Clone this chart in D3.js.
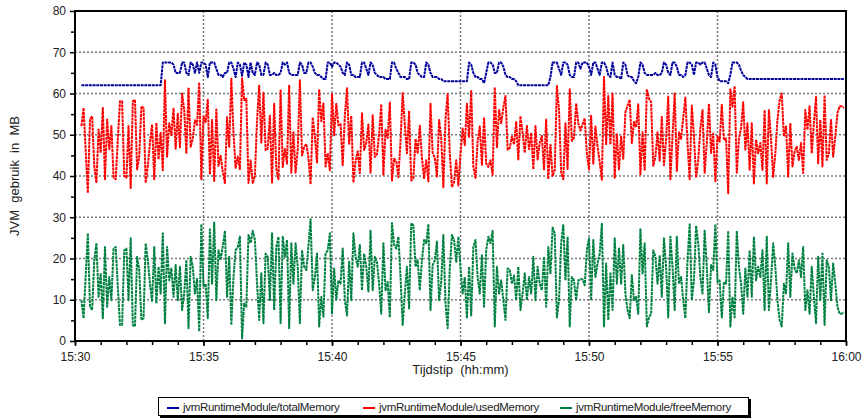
<html>
<head>
<style type="text/css">
  body { margin: 0; background: #fff; }
  text { font-family: "Liberation Sans", Arial, sans-serif; fill: #222; }
  .grid line { stroke: #7a7a7a; stroke-width: 1.5px; stroke-dasharray: 2,2; }
  .axis path, .axis line { stroke: #000; }
</style>
<script src="https://d3js.org/d3.v7.min.js"></script>
</head>
<body>
<script type="text/javascript">

// samples every 5 s, first one at 15:30:15
var startTime = new Date(2008, 0, 1, 15, 30, 15);
var stepSeconds = 5;

var seriesNames = ['jvmRuntimeModule/totalMemory', 'jvmRuntimeModule/usedMemory', 'jvmRuntimeModule/freeMemory'];
var seriesColors = ['#00009c', '#ff0000', '#008040'];

var yTicks = [0, 10, 20, 30, 40, 50, 60, 70, 80];

var totalMemory = [
  62, 62, 62, 62, 62, 62, 62, 62, 62, 62, 62, 62,
  62, 62, 62, 62, 62, 62, 62, 62, 62, 62, 62, 62,
  62, 62, 62, 62, 62, 62, 62, 62, 62, 62, 62, 62,
  62, 62, 67.5, 67.5, 67.5, 67.5, 67.5, 67, 65, 65, 65, 67.5,
  67.5, 65, 64.5, 67.5, 67, 65, 67.5, 65, 67.5, 67.5, 67, 64,
  67.5, 67.5, 67.5, 66, 64.5, 64.5, 64, 65, 65, 67.5, 67.5, 66,
  64, 67.5, 67, 64.3, 67.5, 67, 64, 67.5, 65, 64.5, 67.5, 67,
  64.5, 64.5, 67.5, 67, 64.5, 64.5, 65, 64.5, 64.5, 65, 67.5, 67,
  67.5, 65, 64.5, 64.5, 64.5, 64.5, 67.5, 67, 65, 65, 67.5, 67.5,
  66.5, 65, 64.5, 64.5, 64, 63.5, 63.5, 67.5, 67.5, 66.5, 67.5, 67.5,
  67, 66.5, 65, 64.5, 67.5, 67, 64.5, 64.5, 64, 64, 64, 67.5,
  67.5, 66, 64.5, 67.5, 67, 65, 64.5, 64, 64, 64, 63.5, 63.5,
  63.5, 67.5, 67.5, 66, 65, 64, 64, 64, 63.5, 63.5, 67.5, 67.5,
  67, 65, 64.5, 64, 64, 67.5, 67, 65, 64, 64, 64, 63.5,
  63.5, 63, 63, 63, 63, 63, 63, 63, 63, 63, 63, 63,
  63, 67.5, 67, 65, 64, 64, 63.5, 63.5, 62.5, 65, 67.5, 67.5,
  67, 65, 65, 67.5, 67.5, 66.5, 64.5, 64, 64, 63.5, 63.5, 63,
  62, 62, 62, 62, 62, 62, 62, 62, 62, 62, 62, 62,
  62, 62, 62, 64, 67.5, 67.5, 67.5, 66, 64.5, 67.5, 67.5, 67,
  64.5, 64, 64, 67.5, 67.5, 66, 67.5, 67.5, 67.5, 66.5, 64.5, 67.5,
  67.5, 66, 64.5, 67.5, 67.5, 66.5, 64.5, 64, 67.5, 64.5, 64, 64,
  63.5, 67.5, 67, 64.5, 64, 64, 63, 62.5, 64, 67.5, 67, 65,
  64.5, 64.5, 64.5, 64.5, 65, 64.5, 64.5, 65, 67.5, 67, 65, 64.5,
  67.5, 67.5, 66.5, 64.5, 64.5, 64, 64.5, 67.5, 67.5, 67, 64.5, 67.5,
  67.5, 67, 67.5, 67.5, 66, 64.5, 64, 67.5, 67, 64, 63, 63,
  63, 63, 62.5, 64.5, 67.5, 67.5, 67.5, 67, 65.5, 64.5, 64, 63.5,
  63.5, 63.5, 63.5, 63.5, 63.5, 63.5, 63.5, 63.5, 63.5, 63.5, 63.5, 63.5,
  63.5, 63.5, 63.5, 63.5, 63.5, 63.5, 63.5, 63.5, 63.5, 63.5, 63.5, 63.5,
  63.5, 63.5, 63.5, 63.5, 63.5, 63.5, 63.5, 63.5, 63.5, 63.5, 63.5, 63.5,
  63.5, 63.5, 63.5, 63.5, 63.5, 63.5, 63.5, 63.5, 63.5
];

var usedMemory = [
  52.1, 56.5, 46, 35.9, 53.7, 54.5, 42.4, 38.3, 51.3, 45.6, 56.5, 39.2,
  53.7, 46.5, 52.1, 39.6, 39.2, 48.9, 58.1, 58.1, 40, 39.6, 52.1, 37.1,
  58.1, 58.5, 41.6, 44.8, 56.9, 56.5, 38.3, 42.4, 48.1, 52.5, 39.2, 52.9,
  44, 50.5, 41.4, 63.2, 44.7, 52.8, 49.9, 56.3, 46.6, 55.1, 47, 60,
  56, 45.4, 61.4, 47.1, 49, 53.5, 52.4, 62.7, 39.2, 54.4, 53.1, 58.5,
  40.4, 53.6, 38.8, 56.1, 42.5, 44.9, 41, 38.3, 54.3, 47.1, 63.6, 50.5,
  42, 44.7, 41.7, 63.7, 58.4, 58.7, 38.3, 43.8, 38.3, 40, 53.5, 61.9,
  48.1, 60.2, 46.3, 46.6, 54.6, 38.4, 57.5, 41.7, 39.2, 60.7, 42.2, 46.6,
  43, 61.9, 40.8, 50.6, 40.8, 46.5, 63.2, 45, 47, 47.8, 44.5, 38,
  54.2, 49.5, 43.3, 61, 53.3, 57.6, 42.3, 45.5, 41.4, 59.8, 49.9, 57.5,
  52.3, 52.6, 42.6, 54.6, 61.3, 47.8, 54.6, 38.4, 43.6, 46, 40.7, 55.2,
  46.3, 48, 52.5, 40.8, 54.7, 44.6, 45.3, 50.1, 57.4, 40.3, 51.2, 49.2,
  57.8, 38.9, 44.2, 43.6, 39.7, 48.5, 60.1, 52.5, 45.5, 55.6, 38.9, 39.5,
  49, 45.4, 52.2, 44.4, 39.5, 43.8, 38.7, 57.5, 45.6, 44.4, 39.9, 53.6,
  49.2, 37.3, 53.9, 59.9, 45.4, 37.3, 38.5, 43.8, 37.7, 45.4, 51.5, 47.5,
  57.5, 49.5, 60.8, 42.2, 39.5, 48.5, 52, 42.7, 54.2, 43, 42.2, 43.8,
  40.3, 61.5, 47, 56, 52.8, 56.6, 59.4, 46.4, 46.8, 49.6, 47.6, 53.1,
  44, 54.5, 50.5, 45.6, 52.1, 46.5, 50.5, 41.6, 52.1, 44, 48.1, 49.7,
  41.6, 53.7, 39.2, 47.6, 40, 41.4, 61.8, 56.1, 40.8, 39.2, 52.8, 41.7,
  61, 48.5, 49.3, 57.6, 52.8, 51, 52.5, 54, 45.5, 41.6, 54.6, 43,
  52, 47.2, 43.3, 39.1, 64, 47.7, 59.4, 47.6, 60, 39.6, 50.1, 41.6,
  49.6, 44.2, 55.5, 57, 58.5, 48, 53.1, 51.8, 57.4, 40.4, 50.6, 41.3,
  61, 58.8, 57.9, 42.5, 44.6, 50.6, 43.7, 54.3, 42.6, 49, 59.3, 39.2,
  49.5, 60, 41.2, 50.6, 49, 54.1, 59, 47.9, 39.2, 57.1, 49.8, 39.6,
  43.8, 51.5, 56, 40.8, 48, 57.5, 45.6, 50.3, 38.7, 49.7, 48.3, 57.3,
  48.7, 49.1, 35.8, 61, 56.8, 61.8, 40.8, 49, 51.6, 57.9, 46.4, 52.8,
  41.5, 52.8, 38.2, 48.8, 45.5, 48, 41.5, 56, 38.2, 56, 48.8, 39.8,
  45.5, 53.6, 58.4, 60, 49.6, 52, 39.8, 52.8, 42.3, 45.9, 47.1, 43.9,
  48, 40.7, 56, 51.2, 56.9, 45.5, 52.8, 59.2, 43.1, 53.6, 42.3, 59.6,
  43.9, 45.5, 53.6, 44.7, 49.6, 55.2, 56.9, 56.9, 56.5
];

var freeMemory = [
  9.9, 5.5, 16, 26.1, 8.3, 7.5, 19.6, 23.7, 10.7, 16.4, 5.5, 22.8,
  8.3, 15.5, 9.9, 22.4, 22.8, 13.1, 3.9, 3.9, 22, 22.4, 9.9, 24.9,
  3.9, 3.5, 20.4, 17.2, 5.1, 5.5, 23.7, 19.6, 13.9, 9.5, 22.8, 9.1,
  18, 11.5, 26.1, 4.3, 22.8, 14.7, 17.6, 10.7, 18.4, 9.9, 18, 7.5,
  11.5, 19.6, 3.1, 20.4, 18, 11.5, 15.1, 2.3, 28.3, 13.1, 13.9, 5.5,
  27.1, 13.9, 28.7, 9.9, 22, 19.6, 23, 26.7, 10.7, 20.4, 3.9, 15.5,
  22, 22.8, 25.3, 0.6, 9.1, 8.3, 25.7, 23.7, 26.7, 24.5, 14, 5.1,
  16.4, 4.3, 21.2, 20.4, 9.9, 26.1, 7.5, 22.8, 25.3, 4.3, 25.3, 20.4,
  24.5, 3.1, 23.7, 13.9, 23.7, 18, 4.3, 22, 18, 17.2, 23, 29.5,
  12.3, 15.5, 21.2, 3.5, 10.7, 5.9, 21.2, 22, 26.1, 6.7, 17.6, 10,
  14.7, 13.9, 22.4, 9.9, 6.2, 19.2, 9.9, 26.1, 20.4, 18, 23.3, 12.3,
  21.2, 18, 12, 26.7, 12.3, 20.4, 19.2, 13.9, 6.6, 23.7, 12.3, 14.3,
  5.7, 28.6, 23.3, 22.4, 25.3, 15.5, 3.9, 11.5, 18, 7.9, 28.6, 28,
  18, 19.6, 12.3, 19.6, 24.5, 23.7, 28.3, 7.5, 18.4, 19.6, 24.1, 9.9,
  14.3, 25.7, 9.1, 3.1, 17.6, 25.7, 24.5, 19.2, 25.3, 17.6, 11.5, 15.5,
  5.5, 18, 6.2, 22.8, 24.5, 15.5, 11.5, 20.8, 8.3, 22, 25.3, 23.7,
  26.7, 3.5, 18, 11.5, 14.7, 9.9, 5.1, 17.6, 17.2, 13.9, 15.9, 9.9,
  18, 7.5, 11.5, 16.4, 9.9, 15.5, 11.5, 20.4, 9.9, 18, 13.9, 12.3,
  20.4, 8.3, 22.8, 16.4, 27.5, 26.1, 5.7, 9.9, 23.7, 28.3, 14.7, 25.3,
  3.5, 15.5, 14.7, 9.9, 14.7, 15, 15, 13.5, 22, 24.9, 9.9, 24.5,
  15.5, 18.8, 21.2, 28.4, 3.5, 18.8, 5.1, 16.4, 7.5, 24.9, 13.9, 22.4,
  13.9, 23.3, 11.5, 7.5, 5.5, 16, 9.9, 10.7, 6.6, 27.1, 16.4, 23.7,
  3.5, 5.7, 6.6, 22, 20.4, 13.9, 20.8, 10.7, 24.9, 18, 5.7, 25.3,
  18, 7.5, 25.3, 13.9, 15.5, 9.9, 5.5, 19.6, 28.3, 9.9, 14.7, 27.9,
  23.7, 15.5, 11.5, 26.7, 18, 7, 18.4, 17.2, 28.3, 14.3, 14.7, 5.7,
  14.3, 13.9, 26.7, 3.5, 10.7, 5.7, 26.7, 18, 13.9, 6.6, 17.6, 10.7,
  22, 10.7, 25.3, 14.7, 18, 15.5, 22, 7.5, 25.3, 7.5, 14.7, 23.7,
  18, 9.9, 5.1, 3.5, 13.9, 11.5, 23.7, 10.7, 21.2, 17.6, 16.4, 19.6,
  15.5, 22.8, 7.5, 12.3, 6.6, 18, 10.7, 4.3, 20.4, 9.9, 21.2, 3.9,
  19.6, 18, 9.9, 18.8, 13.9, 8.3, 6.6, 6.6, 7
];

var width = 866, height = 418;
var plotLeft = 75, plotRight = 846, plotTop = 11, plotBottom = 341;

var svg = d3.select('body')
  .append('svg')
    .attr('width', width)
    .attr('height', height);

svg.append('rect')
  .attr('width', width)
  .attr('height', height)
  .attr('fill', '#fff');

var x_scale = d3.scaleTime()
  .domain([new Date(2008, 0, 1, 15, 30), new Date(2008, 0, 1, 16, 0)])
  .range([plotLeft, plotRight]);

var y_scale = d3.scaleLinear()
  .domain([0, 80])
  .range([plotBottom, plotTop]);

var majorTimes = d3.timeMinute.every(5).range(new Date(2008, 0, 1, 15, 30), new Date(2008, 0, 1, 16, 0, 1));
var minorTimes = d3.timeMinute.every(1).range(new Date(2008, 0, 1, 15, 30), new Date(2008, 0, 1, 16, 0, 1));

// grid
svg.append('g')
  .attr('class', 'grid')
  .selectAll('line')
  .data(yTicks.slice(1, -1))
  .enter()
  .append('line')
    .attr('x1', plotLeft).attr('x2', plotRight)
    .attr('y1', function(d) { return y_scale(d); })
    .attr('y2', function(d) { return y_scale(d); });

svg.append('g')
  .attr('class', 'grid')
  .selectAll('line')
  .data(majorTimes.slice(1, -1))
  .enter()
  .append('line')
    .attr('y1', plotTop).attr('y2', plotBottom)
    .attr('x1', function(d) { return x_scale(d); })
    .attr('x2', function(d) { return x_scale(d); });

// series
var series = [totalMemory, usedMemory, freeMemory];
var line = d3.line()
  .x(function(d, i) { return x_scale(new Date(startTime.getTime() + i * stepSeconds * 1000)); })
  .y(function(d) { return y_scale(d); });

var plot = svg.append('g');
[2, 1, 0].forEach(function(k) {
  plot.append('path')
    .datum(series[k])
    .attr('d', line)
    .attr('fill', 'none')
    .attr('stroke', seriesColors[k])
    .attr('stroke-width', 2)
    .attr('stroke-dasharray', '3,0.7')
    .attr('stroke-linejoin', 'round');
});

// axes
var y_axis = d3.axisLeft(y_scale).tickValues(yTicks).tickSize(5).tickPadding(4);
var y_minor = d3.axisLeft(y_scale).tickValues(d3.range(5, 80, 10)).tickSize(4).tickFormat('');
var x_axis = d3.axisBottom(x_scale).tickValues(majorTimes).tickSize(5).tickPadding(6)
  .tickFormat(d3.timeFormat('%H:%M'));
var x_minor = d3.axisBottom(x_scale).tickValues(minorTimes).tickSize(4).tickFormat('');

svg.append('g').attr('class', 'axis').attr('transform', 'translate(' + plotLeft + ',0)').call(y_minor);
svg.append('g').attr('class', 'axis').attr('transform', 'translate(' + plotLeft + ',0)').call(y_axis);
svg.append('g').attr('class', 'axis').attr('transform', 'translate(0,' + plotBottom + ')').call(x_minor);
svg.append('g').attr('class', 'axis').attr('transform', 'translate(0,' + plotBottom + ')').call(x_axis);

svg.selectAll('.axis path').remove();
svg.selectAll('.axis line').attr('stroke-width', 1.5);
svg.selectAll('.axis text')
  .style('font-size', '12px')
  .style('font-family', '"Liberation Sans", Arial, sans-serif')
  .attr('fill', '#222');

// frame
svg.append('rect')
  .attr('x', plotLeft).attr('y', plotTop)
  .attr('width', plotRight - plotLeft).attr('height', plotBottom - plotTop)
  .attr('fill', 'none')
  .attr('stroke', '#000')
  .attr('stroke-width', 2);

// titles
svg.append('text')
  .text('Tijdstip  (hh:mm)')
  .attr('x', (plotLeft + plotRight) / 2)
  .attr('y', 374)
  .attr('text-anchor', 'middle')
  .style('font-size', '13px')
  .style('white-space', 'pre');

svg.append('text')
  .text('JVM  gebruik  in  MB')
  .attr('transform', 'translate(19,' + ((plotTop + plotBottom) / 2) + ') rotate(-90)')
  .attr('text-anchor', 'middle')
  .style('font-size', '13px')
  .style('white-space', 'pre');

// legend
var legend = svg.append('g');
legend.append('rect')
  .attr('x', 160).attr('y', 399).attr('width', 591).attr('height', 19)
  .attr('fill', '#000');
legend.append('rect')
  .attr('x', 158.5).attr('y', 397.5).attr('width', 590).attr('height', 18)
  .attr('fill', '#fff').attr('stroke', '#000').attr('stroke-width', 1);

var legendX = [167, 363, 560];
seriesNames.forEach(function(name, k) {
  legend.append('line')
    .attr('x1', legendX[k]).attr('x2', legendX[k] + 12)
    .attr('y1', 408).attr('y2', 408)
    .attr('stroke', seriesColors[k])
    .attr('stroke-width', 2);
  legend.append('text')
    .text(name)
    .attr('x', legendX[k] + 16)
    .attr('y', 411)
    .style('font-size', '11.5px')
    .style('letter-spacing', '-0.3px');
});

</script>
</body>
</html>
